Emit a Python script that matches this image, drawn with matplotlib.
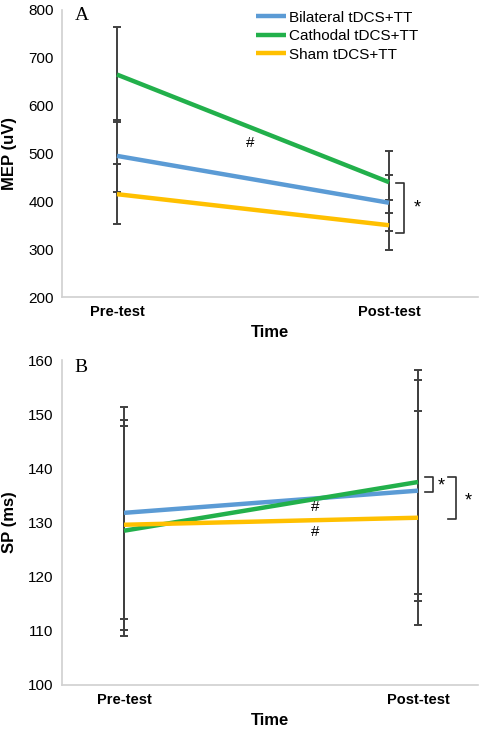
import numpy as np
import matplotlib.pyplot as plt

plt.rcParams['font.family'] = ['Liberation Sans', 'DejaVu Sans']

timepoints = ['Pre-test', 'Post-test']
groups = ['Bilateral tDCS+TT', 'Cathodal tDCS+TT', 'Sham tDCS+TT']
colors = ['#5B9BD5', '#22B04B', '#FFC000']

# panel A: MEP (uV)
mep_mean = {'Bilateral tDCS+TT': [495, 397],
            'Cathodal tDCS+TT': [665, 440],
            'Sham tDCS+TT': [415, 350]}
mep_err = {'Bilateral tDCS+TT': [75, 58],
           'Cathodal tDCS+TT': [100, 65],
           'Sham tDCS+TT': [62, 52]}

# panel B: SP (ms)
sp_mean = {'Bilateral tDCS+TT': [131.8, 135.9],
           'Cathodal tDCS+TT': [128.5, 137.5],
           'Sham tDCS+TT': [129.6, 130.9]}
sp_err = {'Bilateral tDCS+TT': [19.6, 20.4],
          'Cathodal tDCS+TT': [19.4, 20.7],
          'Sham tDCS+TT': [19.4, 19.8]}

x = np.arange(len(timepoints))

fig = plt.figure(figsize=(4.79, 7.33), dpi=100)
axA = fig.add_axes([0.1294, 0.5948, 0.8686, 0.3916])
axB = fig.add_axes([0.1294, 0.0655, 0.8686, 0.4431])


def draw_panel(ax, means, errs):
    for g, c in zip(groups, colors):
        ax.errorbar(x, means[g], yerr=errs[g], color='#404040', lw=0, elinewidth=1.4,
                    capsize=3, capthick=1.4, zorder=2)
    for g, c in zip(groups, colors):
        ax.plot(x, means[g], color=c, lw=3.2, label=g, solid_capstyle='butt', zorder=3)
    for s in ['top', 'right']:
        ax.spines[s].set_visible(False)
    for s in ['left', 'bottom']:
        ax.spines[s].set_color('#d0d0d0')
        ax.spines[s].set_linewidth(1.2)
    ax.tick_params(length=0, labelsize=11, pad=6)
    ax.set_xticks(x)
    ax.set_xticklabels(timepoints, fontweight='bold', fontsize=10.5)
    ax.set_xlabel('Time', fontweight='bold', fontsize=12, labelpad=4)


def bracket(ax, xpos, y0, y1, w):
    ax.plot([xpos - w, xpos, xpos, xpos - w], [y1, y1, y0, y0], color='#303030', lw=1.2)


# ---- panel A
draw_panel(axA, mep_mean, mep_err)
axA.set_xlim(-0.202, 1.327)
axA.set_ylim(200, 800)
axA.set_yticks(np.arange(200, 801, 100))
axA.set_ylabel('MEP (uV)', fontweight='bold', fontsize=12, labelpad=8)
axA.text(0.03, 1.01, 'A', transform=axA.transAxes, family='Liberation Serif',
         fontsize=14, va='top', ha='left')
axA.text(0.49, 522, '#', fontsize=11, ha='center', va='center')
bracket(axA, 1.055, 438, 333, 0.03)
axA.text(1.105, 386, '*', fontsize=13, ha='center', va='center')
axA.legend(loc='upper left', bbox_to_anchor=(0.44, 1.035), frameon=False, fontsize=11,
           handlelength=2.0, handletextpad=0.2, labelspacing=0.3, borderpad=0.2)

# ---- panel B
draw_panel(axB, sp_mean, sp_err)
axB.set_xlim(-0.211, 1.204)
axB.set_ylim(100, 160)
axB.set_yticks(np.arange(100, 161, 10))
axB.set_ylabel('SP (ms)', fontweight='bold', fontsize=12, labelpad=8)
axB.text(0.03, 1.005, 'B', transform=axB.transAxes, family='Liberation Serif',
         fontsize=14, va='top', ha='left')
axB.text(0.65, 132.8, '#', fontsize=11, ha='center', va='center')
axB.text(0.65, 128.3, '#', fontsize=11, ha='center', va='center')
bracket(axB, 1.05, 138.5, 135.7, 0.025)
axB.text(1.08, 136.8, '*', fontsize=13, ha='center', va='center')
bracket(axB, 1.128, 138.4, 130.7, 0.025)
axB.text(1.17, 133.9, '*', fontsize=13, ha='center', va='center')

fig.savefig('out.png', dpi=100)
